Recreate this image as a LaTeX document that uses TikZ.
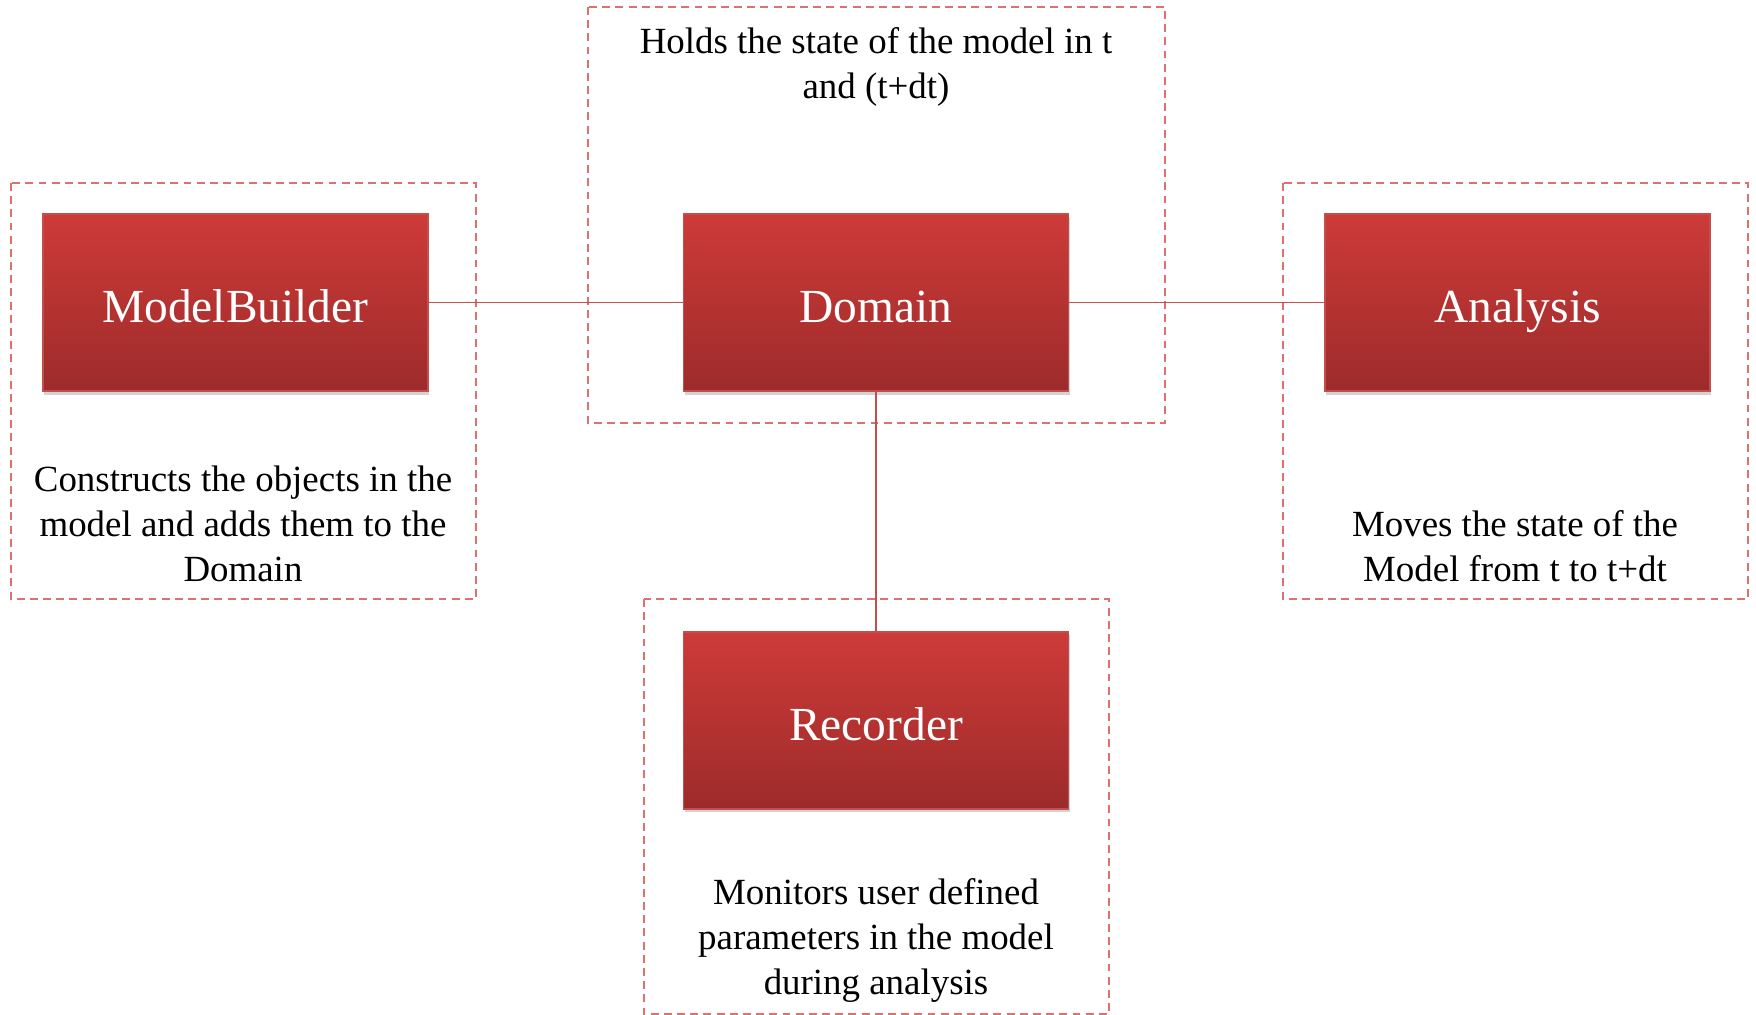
\documentclass[tikz,border=0pt]{standalone}
\usepackage{fontspec}
\setmainfont{Liberation Serif}
\usetikzlibrary{positioning,shadows}
\definecolor{boxtop}{RGB}{205,59,56}
\definecolor{boxbot}{RGB}{157,43,43}
\definecolor{boxline}{RGB}{196,78,75}
\definecolor{framered}{RGB}{222,112,112}
\tikzset{
    block/.style={draw=boxline,line width=1pt,top color=boxtop,bottom color=boxbot,
        minimum width=7.7cm,minimum height=3.54cm,text=white,
        text height=22.5pt,text depth=0pt,
        font=\fontsize{27}{32}\selectfont,
        drop shadow={shadow xshift=0.6pt,shadow yshift=-2pt,opacity=0.35}},
    dashframe/.style={framered,line width=0.8pt,dash pattern=on 4.5pt off 3pt},
    desc/.style={align=center,font=\fontsize{21}{25.6}\selectfont},
    link/.style={boxline,line width=1pt}
}
\begin{document}
\begin{tikzpicture}
                \useasboundingbox (0,0) rectangle (35.12,-20.3);
                \draw[dashframe] (0.22,-3.66) rectangle (9.52,-11.98);
                \draw[dashframe] (11.76,-0.14) rectangle (23.3,-8.46);
                \draw[dashframe] (25.66,-3.66) rectangle (34.96,-11.98);
                \draw[dashframe] (12.88,-11.98) rectangle (22.18,-20.28);
                \node[block] (D) at (17.52,-6.05) {Domain};
                \node[block,left=5.08cm of D] (MB) {ModelBuilder};
                \node[block,right=5.1cm of D] (A) {Analysis};
                \node[block,below=4.78cm of D] (R) {Recorder};
                \node[desc] (tD) at (17.52,-1.33) {Holds the state of the model in t\\and (t+dt)};
                \node[desc] (tMB) at (4.86,-10.48) {Constructs the objects in the\\model and adds them to the\\Domain};
                \node[desc] (tA) at (30.3,-10.93) {Moves the state of the\\Model from t to t+dt};
                \node[desc] (tR) at (17.52,-18.8) {Monitors user defined\\parameters in the model\\during analysis};
                \draw[link] (MB) -- (D);
                \draw[link] (D) -- (A);
                \draw[link] (D) -- (R);
            \end{tikzpicture}
\end{document}
